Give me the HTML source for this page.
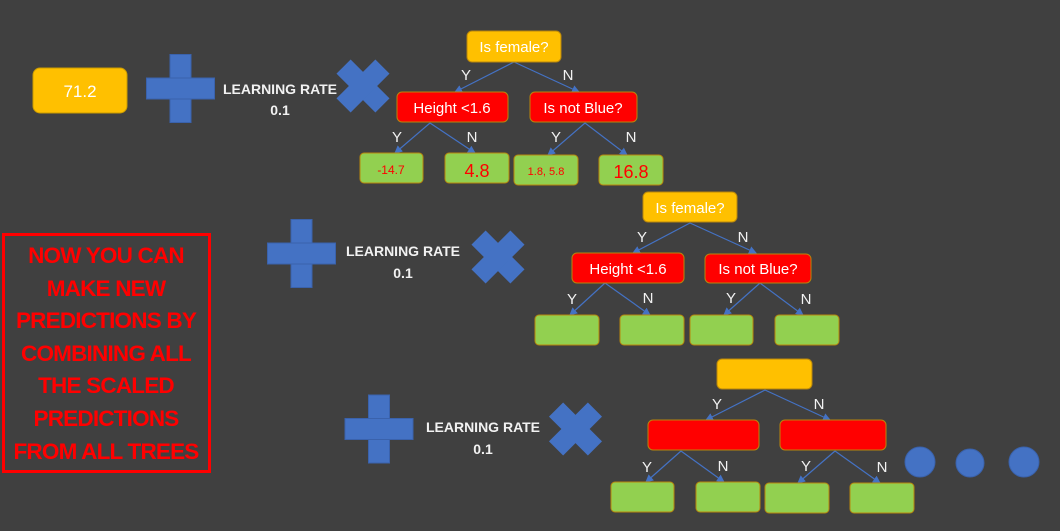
<!DOCTYPE html>
<html><head><meta charset="utf-8"><style>
html,body{margin:0;padding:0;background:#404040;}
svg{display:block;font-family:"Liberation Sans",sans-serif;}
</style></head><body>
<svg width="1060" height="531" viewBox="0 0 1060 531" xmlns="http://www.w3.org/2000/svg">
<defs>
<marker id="a" markerWidth="8" markerHeight="8" refX="7" refY="4" orient="auto" markerUnits="userSpaceOnUse"><path d="M0,0 L8,4 L0,8 z" fill="#4472c4"/></marker>
<g id="plus"><rect x="-10.5" y="-34" width="21" height="68" fill="#4472c4" stroke="#3a62ac"/><rect x="-34" y="-10.5" width="68" height="21" fill="#4472c4" stroke="#3a62ac"/></g>
<g id="cross"><rect x="-27.5" y="-10" width="55" height="20" fill="#4472c4" transform="rotate(45)"/><rect x="-27.5" y="-10" width="55" height="20" fill="#4472c4" transform="rotate(-45)"/></g>
</defs>
<rect width="1060" height="531" fill="#404040"/>

<rect x="33" y="68" width="94" height="45" rx="7" fill="#ffc000" stroke="#c99a00"/>
<text x="80" y="97" font-size="17" fill="#fff" text-anchor="middle">71.2</text>

<use href="#plus" x="180.5" y="88.5"/>
<use href="#cross" x="363" y="86"/>
<text x="280" y="94" font-size="14" font-weight="bold" fill="#f2f2f2" text-anchor="middle">LEARNING RATE</text>
<text x="280" y="115" font-size="14" font-weight="bold" fill="#f2f2f2" text-anchor="middle">0.1</text>

<use href="#plus" x="301.5" y="253.5"/>
<use href="#cross" x="498" y="257"/>
<text x="403" y="256" font-size="14" font-weight="bold" fill="#f2f2f2" text-anchor="middle">LEARNING RATE</text>
<text x="403" y="278" font-size="14" font-weight="bold" fill="#f2f2f2" text-anchor="middle">0.1</text>

<use href="#plus" x="379" y="429"/>
<use href="#cross" x="575.5" y="429"/>
<text x="483" y="432" font-size="14" font-weight="bold" fill="#f2f2f2" text-anchor="middle">LEARNING RATE</text>
<text x="483" y="454" font-size="14" font-weight="bold" fill="#f2f2f2" text-anchor="middle">0.1</text>

<rect x="3.5" y="234.5" width="206" height="237" fill="none" stroke="#ff0000" stroke-width="3"/>
<g font-size="22.5" font-weight="bold" fill="#ff0000" text-anchor="middle" letter-spacing="-0.8">
<text x="106" y="263">NOW YOU CAN</text>
<text x="106" y="296">MAKE NEW</text>
<text x="106" y="328">PREDICTIONS BY</text>
<text x="106" y="361">COMBINING ALL</text>
<text x="106" y="393">THE SCALED</text>
<text x="106" y="426">PREDICTIONS</text>
<text x="106" y="459">FROM ALL TREES</text>
</g>

<g stroke="#4472c4" stroke-width="1.2" fill="none" marker-end="url(#a)">
<line x1="514" y1="62" x2="455" y2="92"/><line x1="514" y1="62" x2="579" y2="92"/>
<line x1="430" y1="123" x2="395" y2="153"/><line x1="430" y1="123" x2="475" y2="153"/>
<line x1="585" y1="123" x2="548" y2="155"/><line x1="585" y1="123" x2="627" y2="155"/>
<line x1="690" y1="223" x2="633" y2="253"/><line x1="690" y1="223" x2="756" y2="253"/>
<line x1="605" y1="283" x2="570" y2="315"/><line x1="605" y1="283" x2="650" y2="315"/>
<line x1="760" y1="283" x2="724" y2="315"/><line x1="760" y1="283" x2="803" y2="315"/>
<line x1="765" y1="390" x2="706" y2="420"/><line x1="765" y1="390" x2="830" y2="420"/>
<line x1="681" y1="451" x2="646" y2="482"/><line x1="681" y1="451" x2="724" y2="482"/>
<line x1="835" y1="451" x2="798" y2="483"/><line x1="835" y1="451" x2="880" y2="483"/>
</g>

<g stroke="#b8860b" stroke-width="1">
<rect x="467" y="31" width="94" height="31" rx="5" fill="#ffc000"/>
<rect x="397" y="92" width="111" height="30" rx="5" fill="#ff0000"/>
<rect x="530" y="92" width="107" height="30" rx="5" fill="#ff0000"/>
<rect x="360" y="153" width="63" height="30" rx="4" fill="#92d050"/>
<rect x="445" y="153" width="64" height="30" rx="4" fill="#92d050"/>
<rect x="514" y="155" width="64" height="30" rx="4" fill="#92d050"/>
<rect x="599" y="155" width="64" height="30" rx="4" fill="#92d050"/>
<rect x="643" y="192" width="94" height="30" rx="5" fill="#ffc000"/>
<rect x="572" y="253" width="112" height="30" rx="5" fill="#ff0000"/>
<rect x="705" y="254" width="106" height="29" rx="5" fill="#ff0000"/>
<rect x="535" y="315" width="64" height="30" rx="4" fill="#92d050"/>
<rect x="620" y="315" width="64" height="30" rx="4" fill="#92d050"/>
<rect x="690" y="315" width="63" height="30" rx="4" fill="#92d050"/>
<rect x="775" y="315" width="64" height="30" rx="4" fill="#92d050"/>
<rect x="717" y="359" width="95" height="30" rx="5" fill="#ffc000"/>
<rect x="648" y="420" width="111" height="30" rx="5" fill="#ff0000"/>
<rect x="780" y="420" width="106" height="30" rx="5" fill="#ff0000"/>
<rect x="611" y="482" width="63" height="30" rx="4" fill="#92d050"/>
<rect x="696" y="482" width="64" height="30" rx="4" fill="#92d050"/>
<rect x="765" y="483" width="64" height="30" rx="4" fill="#92d050"/>
<rect x="850" y="483" width="64" height="30" rx="4" fill="#92d050"/>
</g>

<g fill="#fff" font-size="15" text-anchor="middle">
<text x="514" y="52">Is female?</text>
<text x="452" y="113">Height &lt;1.6</text>
<text x="583" y="113">Is not Blue?</text>
<text x="690" y="213">Is female?</text>
<text x="628" y="274">Height &lt;1.6</text>
<text x="758" y="274">Is not Blue?</text>
</g>
<g fill="#ff0000" text-anchor="middle">
<text x="391" y="174" font-size="12">-14.7</text>
<text x="477" y="177" font-size="18">4.8</text>
<text x="546" y="175" font-size="11">1.8, 5.8</text>
<text x="631" y="178" font-size="18">16.8</text>
</g>
<g fill="#f2f2f2" font-size="15" text-anchor="middle">
<text x="466" y="80">Y</text><text x="568" y="80">N</text>
<text x="397" y="142">Y</text><text x="472" y="142">N</text>
<text x="556" y="142">Y</text><text x="631" y="142">N</text>
<text x="642" y="242">Y</text><text x="743" y="242">N</text>
<text x="572" y="304">Y</text><text x="648" y="303">N</text>
<text x="731" y="303">Y</text><text x="806" y="304">N</text>
<text x="717" y="409">Y</text><text x="819" y="409">N</text>
<text x="647" y="472">Y</text><text x="723" y="471">N</text>
<text x="806" y="471">Y</text><text x="882" y="472">N</text>
</g>

<g fill="#4472c4" stroke="#3a62ac">
<circle cx="920" cy="462" r="15"/>
<circle cx="970" cy="463" r="14"/>
<circle cx="1024" cy="462" r="15"/>
</g>
</svg>
</body></html>
